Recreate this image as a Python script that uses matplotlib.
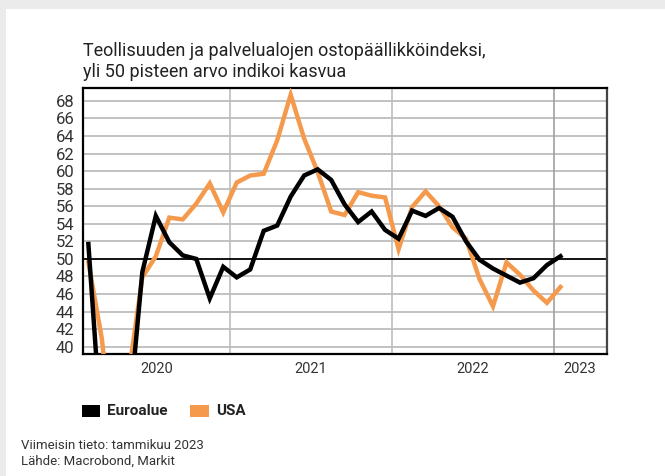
import numpy as np
import matplotlib.pyplot as plt
from matplotlib.patches import Rectangle

# ostopäällikköindeksit, kuukausittain helmikuu 2020 - tammikuu 2023
months = ['2020-02', '2020-03', '2020-04', '2020-05', '2020-06', '2020-07', '2020-08', '2020-09',
          '2020-10', '2020-11', '2020-12', '2021-01', '2021-02', '2021-03', '2021-04', '2021-05',
          '2021-06', '2021-07', '2021-08', '2021-09', '2021-10', '2021-11', '2021-12', '2022-01',
          '2022-02', '2022-03', '2022-04', '2022-05', '2022-06', '2022-07', '2022-08', '2022-09',
          '2022-10', '2022-11', '2022-12', '2023-01']
euroalue = [51.7, 29.7, 13.6, 31.9, 48.5, 54.9, 51.9, 50.4, 50.0, 45.5, 49.1, 47.9,
            48.8, 53.2, 53.8, 57.1, 59.5, 60.2, 59.0, 56.2, 54.2, 55.4, 53.3, 52.3,
            55.5, 54.9, 55.8, 54.8, 52.0, 49.9, 48.9, 48.1, 47.3, 47.8, 49.3, 50.3]
usa = [49.6, 40.9, 27.0, 37.0, 47.9, 50.3, 54.7, 54.5, 56.3, 58.6, 55.3, 58.7,
       59.5, 59.7, 63.5, 68.7, 63.7, 59.9, 55.4, 55.0, 57.6, 57.2, 57.0, 51.1,
       55.9, 57.7, 56.0, 53.6, 52.3, 47.7, 44.6, 49.6, 48.2, 46.4, 45.0, 46.8]
years = [2020, 2021, 2022, 2023]
yticks = list(range(40, 70, 2))

# kuukausi-indeksi: 0 = tammikuun 2021 alku, pisteet kuun puoliväliin
x = np.array([(int(m[:4]) - 2021) * 12 + int(m[5:]) - 1 + 0.5 for m in months])
xmin, xmax = -10.92, 27.93

fig = plt.figure(figsize=(6.65, 4.76), dpi=100)
fig.patch.set_facecolor('#ebebeb')
fig.patches.append(Rectangle((6/665, 0), 1, 1 - 9/476, transform=fig.transFigure,
                             facecolor='white', edgecolor='none', zorder=-10))
plt.rcParams['font.family'] = ['Roboto', 'DejaVu Sans']

ax = fig.add_axes([82.7/665, 1 - 354/476, (606.7-82.7)/665, (354-87.7)/476])
ax.set_xlim(xmin, xmax)
ax.set_ylim(39.17, 69.5)

for yv in yticks:
    if yv == 50:
        ax.axhline(yv, color='black', lw=1.3, zorder=2)
    else:
        ax.axhline(yv, color='#c2c2c2', lw=1.4, zorder=1)
for i, yr in enumerate(years[1:]):
    ax.axvline((yr - 2021) * 12, color='#bdbdbd' if i < 2 else '#a0a0a0', lw=1.2, zorder=1)

ax.plot(x, usa, color='#f59a4c', lw=3.2, zorder=3, solid_joinstyle='miter')
ax.plot(x, euroalue, color='black', lw=3.2, zorder=4, solid_joinstyle='miter')

ax.set_yticks(yticks)
ax.set_yticklabels([str(v) for v in yticks], fontsize=12, color='#333333')
ax.tick_params(axis='y', length=0, pad=6)
ax.set_xticks([])
for s in ax.spines.values():
    s.set_linewidth(1.6)
    s.set_color('black')
ax.spines['right'].set_color('#444444')

# vuosiotsikot näkyvän jakson keskelle
for yr in years:
    a = max((yr - 2021) * 12, xmin)
    b = min((yr - 2020) * 12, xmax)
    ax.text((a + b) / 2, -0.055, str(yr), transform=ax.get_xaxis_transform(),
            ha='center', va='center', fontsize=10.5, color='#333333')

fig.text(83/665, 1 - 56/476, 'Teollisuuden ja palvelualojen ostopäällikköindeksi,',
         fontsize=13, color='#222222', va='baseline')
fig.text(83/665, 1 - 77/476, 'yli 50 pisteen arvo indikoi kasvua',
         fontsize=13, color='#222222', va='baseline')

# selite
fig.patches.append(Rectangle((82/665, 1 - 417/476), 18/665, 12/476, transform=fig.transFigure,
                             facecolor='black', edgecolor='none'))
fig.text(107/665, 1 - 411/476, 'Euroalue', fontsize=11, fontweight='bold', color='#222222', va='center')
fig.patches.append(Rectangle((190/665, 1 - 417/476), 19/665, 12/476, transform=fig.transFigure,
                             facecolor='#f59a4c', edgecolor='none'))
fig.text(216/665, 1 - 411/476, 'USA', fontsize=11, fontweight='bold', color='#222222', va='center')

fig.text(20.7/665, 1 - 449/476, 'Viimeisin tieto: tammikuu 2023', fontsize=9.5, color='#333333', va='baseline')
fig.text(20.7/665, 1 - 465/476, 'Lähde: Macrobond, Markit', fontsize=9.5, color='#333333', va='baseline')

fig.savefig('out.png', dpi=100, facecolor=fig.get_facecolor())
